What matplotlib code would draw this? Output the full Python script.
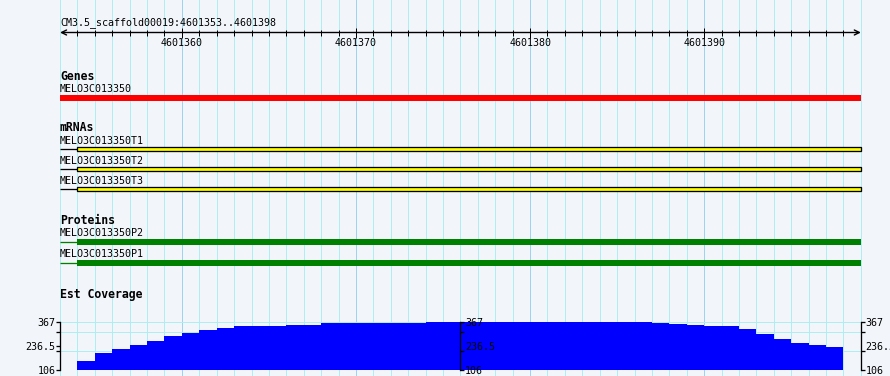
import numpy as np
import matplotlib
matplotlib.use('Agg')
import matplotlib.pyplot as plt

# region shown
ref_name = 'CM3.5_scaffold00019'
view_start = 4601353
view_end = 4601398

gene_name = 'MELO3C013350'
gene_start, gene_end = 4601353, 4601399

mrna_names = ['MELO3C013350T1', 'MELO3C013350T2', 'MELO3C013350T3']
mrna_starts = [4601353, 4601353, 4601353]
mrna_box_starts = [4601354, 4601354, 4601354]
mrna_ends = [4601399, 4601399, 4601399]

protein_names = ['MELO3C013350P2', 'MELO3C013350P1']
protein_starts = [4601353, 4601353]
protein_box_starts = [4601354, 4601354]
protein_ends = [4601399, 4601399]

cov_start = 4601354
cov_values = [155, 198, 219, 241, 263, 290, 307, 322, 333, 344,
              344, 344, 349, 349, 360, 360, 360, 360, 360, 360,
              365, 365, 365, 365, 365, 365, 365, 367, 367, 367,
              367, 367, 365, 360, 356, 351, 342, 342, 327, 302,
              273, 252, 241, 230]
cov_min, cov_max = 106, 367
cov_label_ticks = [106, 236.5, 367]
cov_label_text = ['106', '236.5', '367']
cov_minor_ticks = [210, 310]

bg = '#f2f5fa'
grid_minor = '#aeeef2'
grid_major = '#9fd2ee'
mono = 'DejaVu Sans Mono'

W, H = 890, 376
left_px = 60
bp_px = 17.41
px = 0.72  # one pixel in points at 100 dpi

fig = plt.figure(figsize=(W / 100, H / 100), dpi=100, facecolor=bg)
ax = fig.add_axes([0, 0, 1, 1])
ax.set_facecolor(bg)
xlo = view_start - left_px / bp_px
xhi = view_start + (W - left_px) / bp_px
ax.set_xlim(xlo, xhi)
ax.set_ylim(H, 0)
ax.axis('off')

# vertical grid
for p in range(view_start, view_end + 2):
    c = grid_major if p % 10 == 0 else grid_minor
    ax.axvline(p, color=c, lw=px, zorder=0)

# scale bar
ax.annotate('', xy=(view_start, 32.5), xytext=(view_end + 1, 32.5),
            arrowprops=dict(arrowstyle='<->', lw=1.0, color='black',
                            mutation_scale=9, shrinkA=0, shrinkB=0))
minor_pos = [p for p in range(view_start + 1, view_end + 1) if p % 10 != 0]
major_pos = [p for p in range(view_start + 1, view_end + 1) if p % 10 == 0]
ax.vlines(minor_pos, 29.5, 35.5, color='black', lw=px)
ax.vlines(major_pos, 27.5, 37.5, color='black', lw=px)
for p in major_pos:
    ax.text(p, 46, str(p), ha='center', va='baseline', fontsize=7.2, family=mono)
ax.text(view_start, 25, '%s:%d..%d' % (ref_name, view_start, view_end),
        ha='left', va='baseline', fontsize=7.2, family=mono)

# genes
ax.text(view_start, 80, 'Genes', fontsize=8.3, family=mono, weight='bold', va='baseline')
ax.text(view_start, 91.5, gene_name, fontsize=7.2, family=mono, va='baseline')
ax.barh(97.8, gene_end - gene_start, left=gene_start, height=5.7, color='#ff0000', lw=0)

# mRNAs
ax.text(view_start, 131, 'mRNAs', fontsize=8.3, family=mono, weight='bold', va='baseline')
for i, name in enumerate(mrna_names):
    yb = 143.7 + 20 * i
    yc = 149.2 + 20 * i
    ax.text(view_start, yb, name, fontsize=7.2, family=mono, va='baseline')
    ax.hlines(yc, mrna_starts[i], mrna_box_starts[i], color='black', lw=px * 1.3)
    ax.barh(yc, mrna_ends[i] - mrna_box_starts[i], left=mrna_box_starts[i], height=4.3,
            color='#ffff00', edgecolor='black', lw=px * 1.3)

# proteins
ax.text(view_start, 224, 'Proteins', fontsize=8.3, family=mono, weight='bold', va='baseline')
for i, name in enumerate(protein_names):
    yb = 236 + 21 * i
    yc = 241.8 + 21 * i
    ax.text(view_start, yb, name, fontsize=7.2, family=mono, va='baseline')
    ax.hlines(yc, protein_starts[i], protein_box_starts[i], color='#008000', lw=px * 1.3)
    ax.barh(yc, protein_ends[i] - protein_box_starts[i], left=protein_box_starts[i],
            height=5.7, color='#008000', lw=0)

ax.text(view_start, 298.3, 'Est Coverage', fontsize=8.3, family=mono, weight='bold', va='baseline')

# coverage track
y_bot = (H - 370) / H
y_top = (H - 321.7) / H
cov = fig.add_axes([0, y_bot, 1, y_top - y_bot])
cov.patch.set_visible(False)
cov.set_xlim(xlo, xhi)
cov.set_ylim(cov_min, cov_max)
cov.hlines(cov_label_ticks[::2] + cov_minor_ticks, view_start, view_end + 1,
           color=grid_minor, lw=px, zorder=0)
xs = np.arange(cov_start, cov_start + len(cov_values))
cov.bar(xs, np.array(cov_values) - cov_min, bottom=cov_min, width=1, align='edge',
        color='#0000ff', lw=0, zorder=2)
cov.set_xticks([])
for s in ['top', 'bottom', 'right']:
    cov.spines[s].set_visible(False)
cov.spines['left'].set_position(('data', view_start))


def style_axis(a, side):
    a.set_yticks(cov_label_ticks)
    a.set_yticklabels(cov_label_text, family=mono, fontsize=7.2)
    a.set_yticks(cov_minor_ticks, minor=True)
    a.tick_params(axis='y', which='both', direction='out', length=2.6, width=px * 1.3,
                  pad=0.6, colors='black')
    a.spines[side].set_linewidth(px * 1.3)
    a.yaxis.get_major_ticks()[1].tick1line.set_visible(False)
    a.yaxis.get_major_ticks()[1].tick2line.set_visible(False)


style_axis(cov, 'left')

mid = cov.twinx()
mid.set_ylim(cov_min, cov_max)
for s in ['top', 'bottom', 'left']:
    mid.spines[s].set_visible(False)
mid.spines['right'].set_position(('data', 4601376))
style_axis(mid, 'right')

right = cov.twinx()
right.set_ylim(cov_min, cov_max)
for s in ['top', 'bottom', 'left']:
    right.spines[s].set_visible(False)
right.spines['right'].set_position(('data', view_end + 1))
style_axis(right, 'right')

fig.savefig('out.png', dpi=100, facecolor=bg)
